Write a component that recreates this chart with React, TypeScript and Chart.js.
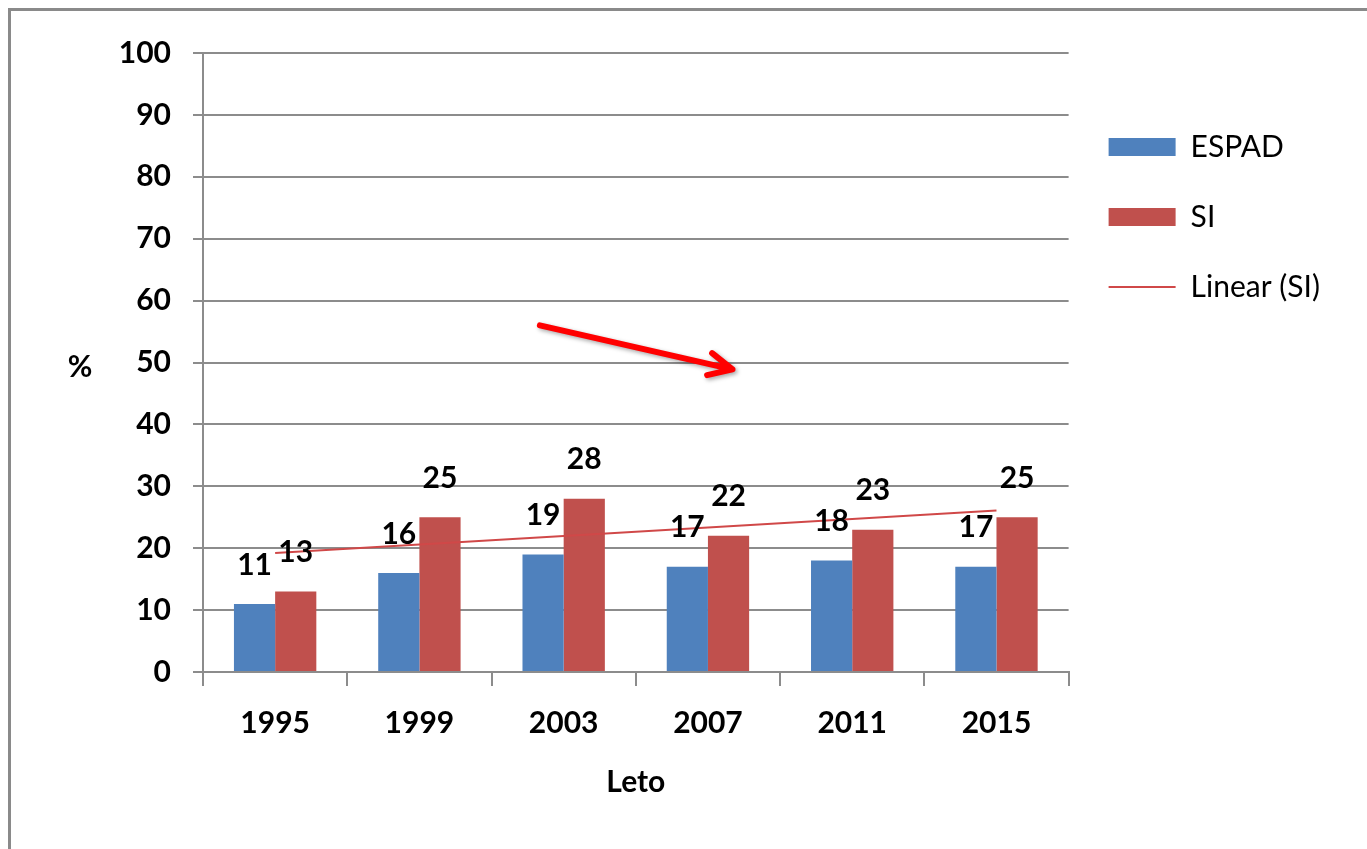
import React, { useEffect, useRef } from 'react';
import { Chart, registerables } from 'chart.js';

Chart.register(...registerables);

// ---- data ----
const YEARS = ['1995', '1999', '2003', '2007', '2011', '2015'];
const ESPAD = [11, 16, 19, 17, 18, 17];
const SI = [13, 25, 28, 22, 23, 25];
const SERIES_NAMES = ['ESPAD', 'SI', 'Linear (SI)'];
const X_TITLE = 'Leto';
const Y_TITLE = '%';
const Y_MIN = 0;
const Y_MAX = 100;
const Y_STEP = 10;
// arrow annotation, in data units (category index, value)
const ARROW_FROM = { x: 1.835, y: 56.0 };
const ARROW_TO = { x: 3.17, y: 48.9 };

// ---- styles ----
const FONT = 'Lato, "Open Sans", sans-serif';
const BLUE = '#4F81BD';
const RED = '#C0504D';
const TREND = '#D04848';
const GRID = '#8C8C8C';

function linearTrend(values: number[]): number[] {
  const n = values.length;
  const xs = values.map((_, i) => i + 1);
  const mx = xs.reduce((a, b) => a + b, 0) / n;
  const my = values.reduce((a, b) => a + b, 0) / n;
  let sxy = 0;
  let sxx = 0;
  for (let i = 0; i < n; i++) {
    sxy += (xs[i] - mx) * (values[i] - my);
    sxx += (xs[i] - mx) * (xs[i] - mx);
  }
  const slope = sxy / sxx;
  const icpt = my - slope * mx;
  return xs.map((x) => icpt + slope * x);
}

const dataLabelPlugin = {
  id: 'dataLabels',
  afterDatasetsDraw(chart: any) {
    const ctx = chart.ctx;
    ctx.save();
    ctx.font = `bold 30px ${FONT}`;
    ctx.fillStyle = '#000';
    ctx.textAlign = 'center';
    ctx.textBaseline = 'middle';
    [0, 1].forEach((di) => {
      const meta = chart.getDatasetMeta(di);
      meta.data.forEach((bar: any, i: number) => {
        const v = chart.data.datasets[di].data[i];
        ctx.fillText(String(v), bar.x, bar.y - 39);
      });
    });
    ctx.restore();
  },
};

const extrasPlugin = {
  id: 'extras',
  afterDraw(chart: any) {
    const ctx = chart.ctx;
    const xs = chart.scales.x;
    const ys = chart.scales.y;
    // y axis title, horizontal
    ctx.save();
    ctx.font = `bold 30px ${FONT}`;
    ctx.fillStyle = '#000';
    ctx.textAlign = 'center';
    ctx.textBaseline = 'middle';
    ctx.fillText(Y_TITLE, 69, ys.getPixelForValue(49.3));
    ctx.restore();

    // red arrow
    const x1 = xs.getPixelForValue(ARROW_FROM.x);
    const y1 = ys.getPixelForValue(ARROW_FROM.y);
    const x2 = xs.getPixelForValue(ARROW_TO.x);
    const y2 = ys.getPixelForValue(ARROW_TO.y);
    const ang = Math.atan2(y2 - y1, x2 - x1);
    const head = 26;
    const spread = Math.PI / 7;
    ctx.save();
    ctx.shadowColor = 'rgba(0,0,0,0.35)';
    ctx.shadowBlur = 4;
    ctx.shadowOffsetX = 2;
    ctx.shadowOffsetY = 2;
    ctx.strokeStyle = '#FF0000';
    ctx.lineWidth = 6;
    ctx.lineCap = 'round';
    ctx.lineJoin = 'round';
    ctx.beginPath();
    ctx.moveTo(x1, y1);
    ctx.lineTo(x2, y2);
    ctx.moveTo(x2 - head * Math.cos(ang - spread), y2 - head * Math.sin(ang - spread));
    ctx.lineTo(x2, y2);
    ctx.lineTo(x2 - head * Math.cos(ang + spread), y2 - head * Math.sin(ang + spread));
    ctx.stroke();
    ctx.restore();
  },
};

export default function App() {
  const ref = useRef<HTMLCanvasElement>(null);

  useEffect(() => {
    if (!ref.current) return;
    const trend = linearTrend(SI);
    const chart = new Chart(ref.current, {
      type: 'bar',
      data: {
        labels: YEARS,
        datasets: [
          {
            label: SERIES_NAMES[0],
            data: ESPAD,
            backgroundColor: BLUE,
            borderWidth: 0,
            categoryPercentage: 0.571,
            barPercentage: 1,
          },
          {
            label: SERIES_NAMES[1],
            data: SI,
            backgroundColor: RED,
            borderWidth: 0,
            categoryPercentage: 0.571,
            barPercentage: 1,
          },
          {
            type: 'line',
            label: SERIES_NAMES[2],
            data: trend,
            borderColor: TREND,
            backgroundColor: TREND,
            borderWidth: 2,
            pointRadius: 0,
            fill: false,
            order: -1,
          } as any,
        ],
      },
      options: {
        responsive: false,
        animation: false,
        layout: { padding: { top: 42, left: 0, right: 29, bottom: 41 } },
        plugins: {
          tooltip: { enabled: false },
          legend: {
            position: 'right',
            align: 'start',
            title: { display: true, text: '', padding: { top: 27, bottom: 0 }, font: { size: 10 } },
            labels: {
              usePointStyle: true,
              pointStyleWidth: 67,
              boxHeight: 18,
              padding: 40,
              color: '#000',
              font: { family: FONT, size: 30 },
              generateLabels: (c: any) =>
                c.data.datasets.map((ds: any, i: number) => ({
                  text: ds.label,
                  datasetIndex: i,
                  fillStyle: i < 2 ? ds.backgroundColor : 'rgba(0,0,0,0)',
                  strokeStyle: i < 2 ? ds.backgroundColor : ds.borderColor,
                  lineWidth: i < 2 ? 0 : 2,
                  pointStyle: i < 2 ? 'rect' : 'line',
                  hidden: false,
                  fontColor: '#000',
                })),
            },
          },
        },
        scales: {
          x: {
            grid: {
              display: true,
              drawOnChartArea: false,
              drawTicks: true,
              tickLength: 14,
              color: GRID,
              lineWidth: 2,
              offset: true,
            },
            border: { display: true, color: GRID, width: 2 },
            ticks: {
              padding: 19,
              color: '#000',
              maxRotation: 0,
              font: { family: FONT, size: 30, weight: 'bold' },
            },
            title: {
              display: true,
              text: X_TITLE,
              color: '#000',
              font: { family: FONT, size: 30, weight: 'bold' },
              padding: { top: 4, bottom: 0 },
            },
          },
          y: {
            min: Y_MIN,
            max: Y_MAX,
            ticks: {
              stepSize: Y_STEP,
              padding: 22,
              color: '#000',
              font: { family: FONT, size: 30, weight: 'bold' },
            },
            grid: { color: GRID, lineWidth: 2, tickLength: 10, drawTicks: true },
            border: { display: true, color: GRID, width: 2 },
            afterFit: (s: any) => {
              s.width = 192;
            },
          },
        },
      } as any,
      plugins: [dataLabelPlugin, extrasPlugin],
    });
    return () => chart.destroy();
  }, []);

  return (
    <div
      style={{
        position: 'fixed',
        top: 8,
        left: 8,
        width: 1400,
        height: 900,
        borderTop: '3px solid #8A8A8A',
        borderLeft: '3px solid #8A8A8A',
        background: '#fff',
      }}
    >
      <canvas ref={ref} width={1348} height={830} style={{ display: 'block' }} />
    </div>
  );
}
